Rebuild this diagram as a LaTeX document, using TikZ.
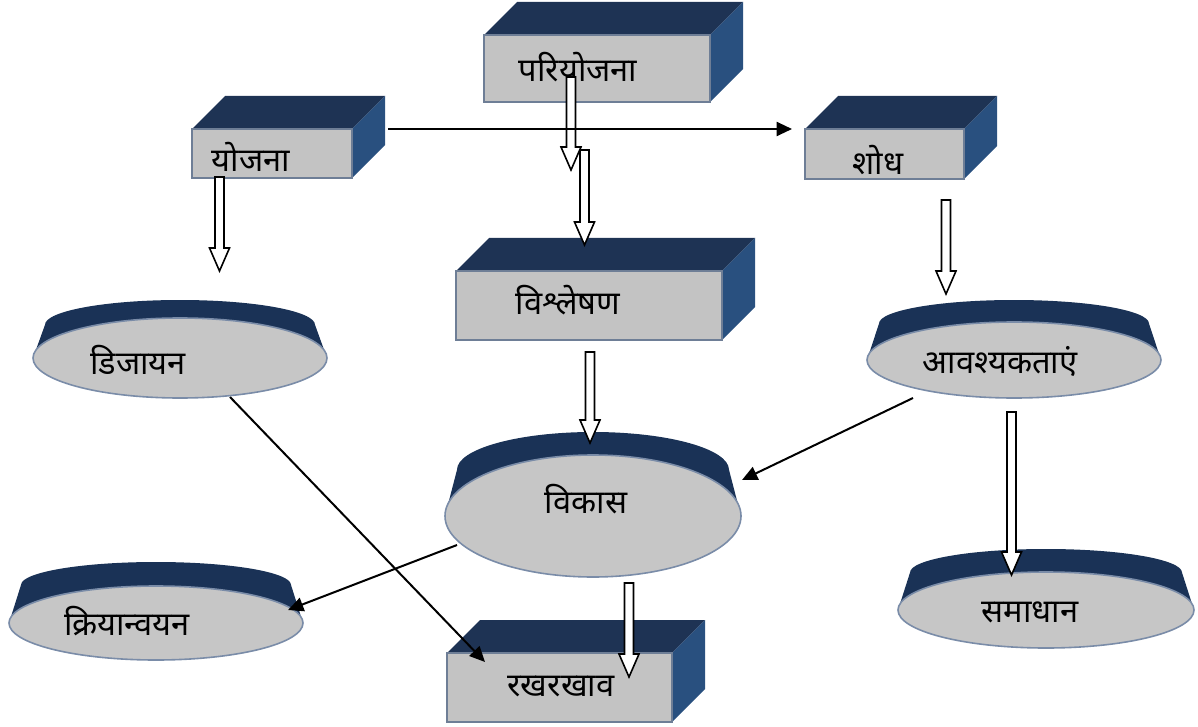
\documentclass[tikz,border=0pt]{standalone}
\usepackage{fontspec}
\newfontfamily\dev[Script=Devanagari]{Noto Sans}
\usetikzlibrary{arrows.meta}
\definecolor{topc}{HTML}{1E3354}
\definecolor{sidec}{HTML}{29507F}
\definecolor{frontc}{HTML}{C3C3C3}
\definecolor{edgec}{HTML}{6E7E96}
\definecolor{rimc}{HTML}{1A3256}
\definecolor{diskc}{HTML}{C6C6C6}
\definecolor{diskedge}{HTML}{7A8CA8}
\tikzset{
  lbl/.style={font=\dev\fontsize{24.5}{28}\selectfont, inner sep=0pt},
  frontface/.style={draw=edgec, fill=frontc, line width=1.2pt},
  diskface/.style={draw=diskedge, fill=diskc, line width=1.2pt},
  blk/.style={draw=black, fill=white, line width=1.2pt, line join=miter},
  thin/.style={draw=black, line width=1.5pt, -{Triangle[length=11.5pt,width=10.5pt]}}
}
% name x1 y1 x2 y2 depth
\newcommand\mycube[6]{%
  \fill[topc] (#2,#3) -- ({#2+#6},{#3-#6}) -- ({#4+#6},{#3-#6}) -- (#4,#3) -- cycle;
  \fill[sidec] (#4,#3) -- ({#4+#6},{#3-#6}) -- ({#4+#6},{#5-#6}) -- (#4,#5) -- cycle;
  \draw[frontface] (#2,#3) rectangle (#4,#5);
  \coordinate (#1) at ({(#2+#4)/2},{(#3+#5)/2});
}
% name cx cy rx ry T  (bevelled top: flatter ellipse, top edge at T)
\newcommand\mydisk[6]{%
  \pgfmathsetmacro\rxt{#4-12}%
  \pgfmathsetmacro\ryt{#5*0.62}%
  \pgfmathsetmacro\cyt{#6+\ryt}%
  \fill[rimc] ({#2-#4},#3) -- ({#2-\rxt},\cyt) -- ({#2+\rxt},\cyt) -- ({#2+#4},#3) -- cycle;
  \fill[rimc] (#2,\cyt) ellipse[x radius={\rxt*0.75pt}, y radius={\ryt*0.75pt}];
  \draw[diskface] (#2,#3) ellipse[x radius={#4*0.75pt}, y radius={#5*0.75pt}];
  \coordinate (#1) at (#2,#3);
}
% x ytop ytip
\newcommand\blkarr[3]{%
  \draw[blk] ({#1-4.5},#2) -- ({#1+4.5},#2) -- ({#1+4.5},{#3-23}) -- ({#1+10},{#3-23}) -- (#1,#3) -- ({#1-10},{#3-23}) -- ({#1-4.5},{#3-23}) -- cycle;
}
\begin{document}
\begin{tikzpicture}[x=0.75pt,y=-0.75pt]
\useasboundingbox (0,0) rectangle (1198,727);
% cuboids
\mycube{pariyojana}{484}{35}{710}{102}{33}
\mycube{yojana}{192}{129}{352}{178}{33}
\mycube{shodh}{805}{129}{964}{179}{33}
\mycube{vishleshan}{456}{271}{722}{340}{33}
\mycube{rakhrakhav}{447}{653}{672}{722}{33}
% disks
\mydisk{design}{180}{358}{147}{40}{300}
\mydisk{vikas}{593}{516}{148}{61}{432}
\mydisk{avashyak}{1014}{360}{147}{38}{300}
\mydisk{samadhan}{1046}{610}{148}{38}{549}
\mydisk{kriyanvayan}{156}{623}{147}{37}{562}
% labels
\node[lbl] (t-pariyojana) at (578,67) {परियोजना};
\node[lbl] (t-yojana) at (251,157) {योजना};
\node[lbl] (t-shodh) at (878,160) {शोध};
\node[lbl] (t-vishleshan) at (568,300) {विश्लेषण};
\node[lbl] (t-rakhrakhav) at (561,687) {रखरखाव};
\node[lbl] (t-design) at (138,360) {डिजायन};
\node[lbl] (t-vikas) at (586,499) {विकास};
\node[lbl] (t-avashyak) at (1000,361) {आवश्यकताएं};
\node[lbl] (t-samadhan) at (1030,612) {समाधान};
\node[lbl] (t-kriyanvayan) at (127,621) {क्रियान्वयन};
% block arrows
\blkarr{571}{77}{170}
\blkarr{584.5}{150}{245}
\blkarr{219.5}{177}{271}
\blkarr{946}{200}{294}
\blkarr{590}{352}{443}
\blkarr{1011.5}{412}{575}
\blkarr{629}{583}{677}
% thin arrows
\coordinate (yojana-e) at (388,129);
\coordinate (shodh-w) at (792,129);
\coordinate (design-s) at (230,397);
\coordinate (rakh-nw) at (485,662);
\coordinate (avash-sw) at (913,398);
\coordinate (vikas-ne) at (742,480);
\coordinate (vikas-sw) at (457,545);
\coordinate (kriya-ne) at (288,610);
\draw[thin] (yojana-e) -- (shodh-w);
\draw[thin] (design-s) -- (rakh-nw);
\draw[thin] (avash-sw) -- (vikas-ne);
\draw[thin] (vikas-sw) -- (kriya-ne);
\end{tikzpicture}
\end{document}
